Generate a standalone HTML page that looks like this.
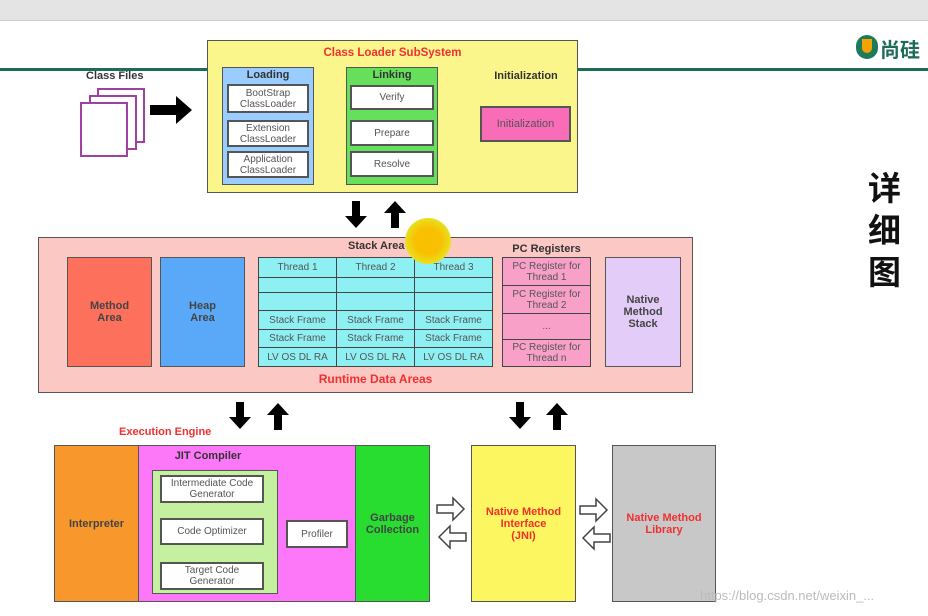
<!DOCTYPE html>
<html><head><meta charset="utf-8"><style>
body{margin:0;width:928px;height:616px;position:relative;overflow:hidden;background:#fff;font-family:"Liberation Sans","Noto Sans CJK SC",sans-serif;}
.a{position:absolute;box-sizing:border-box;}
.c{display:flex;align-items:center;justify-content:center;text-align:center;}
.b{border:1.5px solid #555;}
.w{background:#fff;border:2px solid #555;font-size:10px;color:#555;line-height:11px;}
.t{font-size:11px;font-weight:bold;color:#333;}
.r{color:#f03030;font-weight:bold;font-size:11px;}
.cell{position:absolute;box-sizing:border-box;border:1.5px solid #444;background:#8ff0f4;font-size:10px;color:#555;display:flex;align-items:center;justify-content:center;}
</style></head><body>
<div class="a" style="left:0;top:0;width:928px;height:21px;background:#e4e4e4;border-bottom:1px solid #ccc"></div>
<div class="a" style="left:0;top:68px;width:928px;height:3px;background:#1e6b5a"></div>
<div class="a" style="left:856px;top:35px;width:22px;height:24px;border-radius:11px;background:#1e7a5a"></div>
<div class="a" style="left:862px;top:39px;width:10px;height:14px;border-radius:0 0 5px 5px;background:#f4a300"></div>
<div class="a" style="left:880px;top:34px;font-size:20px;color:#1e6b5a;font-weight:bold">尚硅</div>
<div class="a" style="left:868px;top:168px;font-size:33px;font-weight:bold;line-height:42px;color:#111">详<br>细<br>图</div>

<!-- class files -->
<div class="a t" style="left:86px;top:70px">Class Files</div>
<div class="a" style="left:97px;top:88px;width:48px;height:55px;border:2px solid #a040a0;background:#fff"></div>
<div class="a" style="left:89px;top:95px;width:48px;height:55px;border:2px solid #a040a0;background:#fff"></div>
<div class="a" style="left:80px;top:102px;width:48px;height:55px;border:2px solid #a040a0;background:#fff"></div>
<svg class="a" style="left:0;top:0" width="928" height="616">
<defs><marker id="m" markerWidth="3" markerHeight="3" refX="1" refY="1.5" orient="auto"><path d="M0,0L3,1.5L0,3z" fill="#000"/></marker></defs>
<g fill="#000">
<path d="M150,105h26v-9l16,14l-16,14v-9h-26z"/>
<path d="M319,119h14v-8l12,11l-12,11v-8h-14z"/>
<path d="M446,118h14v-8l12,11l-12,11v-8h-14z"/>
<path d="M352,201h8v15h7l-11,12l-11,-12h7z"/>
<path d="M391,228h8v-15h7l-11,-12l-11,12h7z"/>
<path d="M236,402h8v15h7l-11,12l-11,-12h7z"/>
<path d="M274,430h8v-15h7l-11,-12l-11,12h7z"/>
<path d="M516,402h8v15h7l-11,12l-11,-12h7z"/>
<path d="M553,430h8v-15h7l-11,-12l-11,12h7z"/>
</g>
<g fill="#fff" stroke="#444" stroke-width="1.5">
<path d="M437,505h16v-7l11,11l-11,11v-7h-16z"/>
<path d="M466,533h-16v-7l-11,11l11,11v-7h16z"/>
<path d="M580,506h16v-7l11,11l-11,11v-7h-16z"/>
<path d="M610,534h-16v-7l-11,11l11,11v-7h16z"/>
<path d="M207,501h6v6h4l-7,8l-7,-8h4z"/>
<path d="M207,545h6v6h4l-7,8l-7,-8h4z"/>
</g>
</svg>

<!-- Class loader -->
<div class="a b" style="left:207px;top:40px;width:371px;height:153px;background:#fbf68c"></div>
<div class="a r" style="left:207px;top:47px;width:371px;text-align:center;font-size:11.5px">Class Loader SubSystem</div>
<div class="a b" style="left:222px;top:67px;width:92px;height:118px;background:#99ccff"></div>
<div class="a t" style="left:222px;top:69px;width:92px;text-align:center">Loading</div>
<div class="a w c" style="left:227px;top:84px;width:82px;height:29px">BootStrap<br>ClassLoader</div>
<div class="a w c" style="left:227px;top:120px;width:82px;height:27px">Extension<br>ClassLoader</div>
<div class="a w c" style="left:227px;top:151px;width:82px;height:27px">Application<br>ClassLoader</div>
<div class="a b" style="left:346px;top:67px;width:92px;height:118px;background:#66e05a"></div>
<div class="a t" style="left:346px;top:69px;width:92px;text-align:center">Linking</div>
<div class="a w c" style="left:350px;top:85px;width:84px;height:25px">Verify</div>
<div class="a w c" style="left:350px;top:120px;width:84px;height:26px">Prepare</div>
<div class="a w c" style="left:350px;top:151px;width:84px;height:26px">Resolve</div>
<div class="a t" style="left:480px;top:70px;width:92px;text-align:center">Initialization</div>
<div class="a c" style="left:480px;top:106px;width:91px;height:36px;background:#f86cb8;border:2px solid #555;font-size:11px;color:#555">Initialization</div>

<!-- Runtime -->
<div class="a b" style="left:38px;top:237px;width:655px;height:156px;background:#fcc8c4"></div>
<div class="a c b" style="left:67px;top:257px;width:85px;height:110px;background:#fc705c;font-weight:bold;font-size:11px;color:#444">Method<br>Area</div>
<div class="a c b" style="left:160px;top:257px;width:85px;height:110px;background:#5aa8f8;font-weight:bold;font-size:11px;color:#444">Heap<br>Area</div>
<div class="a t" style="left:348px;top:240px">Stack Area</div>
<div class="a" style="left:258px;top:257px;width:235px;height:110px;border:1.5px solid #444;background:#8ff0f4"></div>
<div class="cell" style="left:258px;top:257px;width:79px;height:21px">Thread 1</div>
<div class="cell" style="left:336px;top:257px;width:79px;height:21px">Thread 2</div>
<div class="cell" style="left:414px;top:257px;width:79px;height:21px">Thread 3</div>
<div class="cell" style="left:258px;top:277px;width:79px;height:16px"></div>
<div class="cell" style="left:336px;top:277px;width:79px;height:16px"></div>
<div class="cell" style="left:414px;top:277px;width:79px;height:16px"></div>
<div class="cell" style="left:258px;top:292px;width:79px;height:19px"></div>
<div class="cell" style="left:336px;top:292px;width:79px;height:19px"></div>
<div class="cell" style="left:414px;top:292px;width:79px;height:19px"></div>
<div class="cell" style="left:258px;top:310px;width:79px;height:20px">Stack Frame</div>
<div class="cell" style="left:336px;top:310px;width:79px;height:20px">Stack Frame</div>
<div class="cell" style="left:414px;top:310px;width:79px;height:20px">Stack Frame</div>
<div class="cell" style="left:258px;top:329px;width:79px;height:19px">Stack Frame</div>
<div class="cell" style="left:336px;top:329px;width:79px;height:19px">Stack Frame</div>
<div class="cell" style="left:414px;top:329px;width:79px;height:19px">Stack Frame</div>
<div class="cell" style="left:258px;top:347px;width:79px;height:20px">LV OS DL RA</div>
<div class="cell" style="left:336px;top:347px;width:79px;height:20px">LV OS DL RA</div>
<div class="cell" style="left:414px;top:347px;width:79px;height:20px">LV OS DL RA</div>
<div class="a" style="left:405px;top:218px;width:46px;height:46px;border-radius:50%;background:radial-gradient(circle,#f8c000 40%,#e8e020 70%,rgba(200,230,40,0.3))"></div>
<div class="a t" style="left:502px;top:243px;width:89px;text-align:center">PC Registers</div>
<div class="a" style="left:502px;top:257px;width:89px;height:110px;border:1.5px solid #444;background:#f8a0c8"></div>
<div class="cell" style="left:502px;top:257px;width:89px;height:29px;background:#f8a0c8;line-height:11px;text-align:center">PC Register for<br>Thread 1</div>
<div class="cell" style="left:502px;top:285px;width:89px;height:29px;background:#f8a0c8;line-height:11px;text-align:center">PC Register for<br>Thread 2</div>
<div class="cell" style="left:502px;top:313px;width:89px;height:27px;background:#f8a0c8">...</div>
<div class="cell" style="left:502px;top:339px;width:89px;height:28px;background:#f8a0c8;line-height:11px;text-align:center">PC Register for<br>Thread n</div>
<div class="a c b" style="left:605px;top:257px;width:76px;height:110px;background:#e4ccf8;font-weight:bold;font-size:11px;color:#444">Native<br>Method<br>Stack</div>
<div class="a r" style="left:38px;top:372px;width:675px;text-align:center;font-size:12px">Runtime Data Areas</div>

<!-- Execution -->
<div class="a r" style="left:119px;top:426px">Execution Engine</div>
<div class="a c b" style="left:54px;top:445px;width:85px;height:157px;background:#f8982c;font-weight:bold;font-size:11px;color:#444">Interpreter</div>
<div class="a b" style="left:138px;top:445px;width:218px;height:157px;background:#fc78f8"></div>
<div class="a t" style="left:138px;top:450px;width:140px;text-align:center">JIT Compiler</div>
<div class="a" style="left:152px;top:470px;width:126px;height:124px;background:#c4f0a0;border:1.5px solid #555"></div>
<div class="a w c" style="left:160px;top:475px;width:104px;height:28px">Intermediate Code<br>Generator</div>
<div class="a w c" style="left:160px;top:518px;width:104px;height:27px">Code Optimizer</div>
<div class="a w c" style="left:160px;top:562px;width:104px;height:28px">Target Code<br>Generator</div>
<div class="a w c" style="left:286px;top:520px;width:62px;height:28px">Profiler</div>
<div class="a c b" style="left:355px;top:445px;width:75px;height:157px;background:#28dc30;font-weight:bold;font-size:11px;color:#444">Garbage<br>Collection</div>
<div class="a c b" style="left:471px;top:445px;width:105px;height:157px;background:#fcf660;font-weight:bold;font-size:11px;color:#f03030">Native Method<br>Interface<br>(JNI)</div>
<div class="a c b" style="left:612px;top:445px;width:104px;height:157px;background:#c8c8c8;font-weight:bold;font-size:11px;color:#f03030">Native Method<br>Library</div>
<div class="a" style="left:700px;top:588px;font-size:13px;color:#bbb">https://blog.csdn.net/weixin_...</div>
</body></html>
